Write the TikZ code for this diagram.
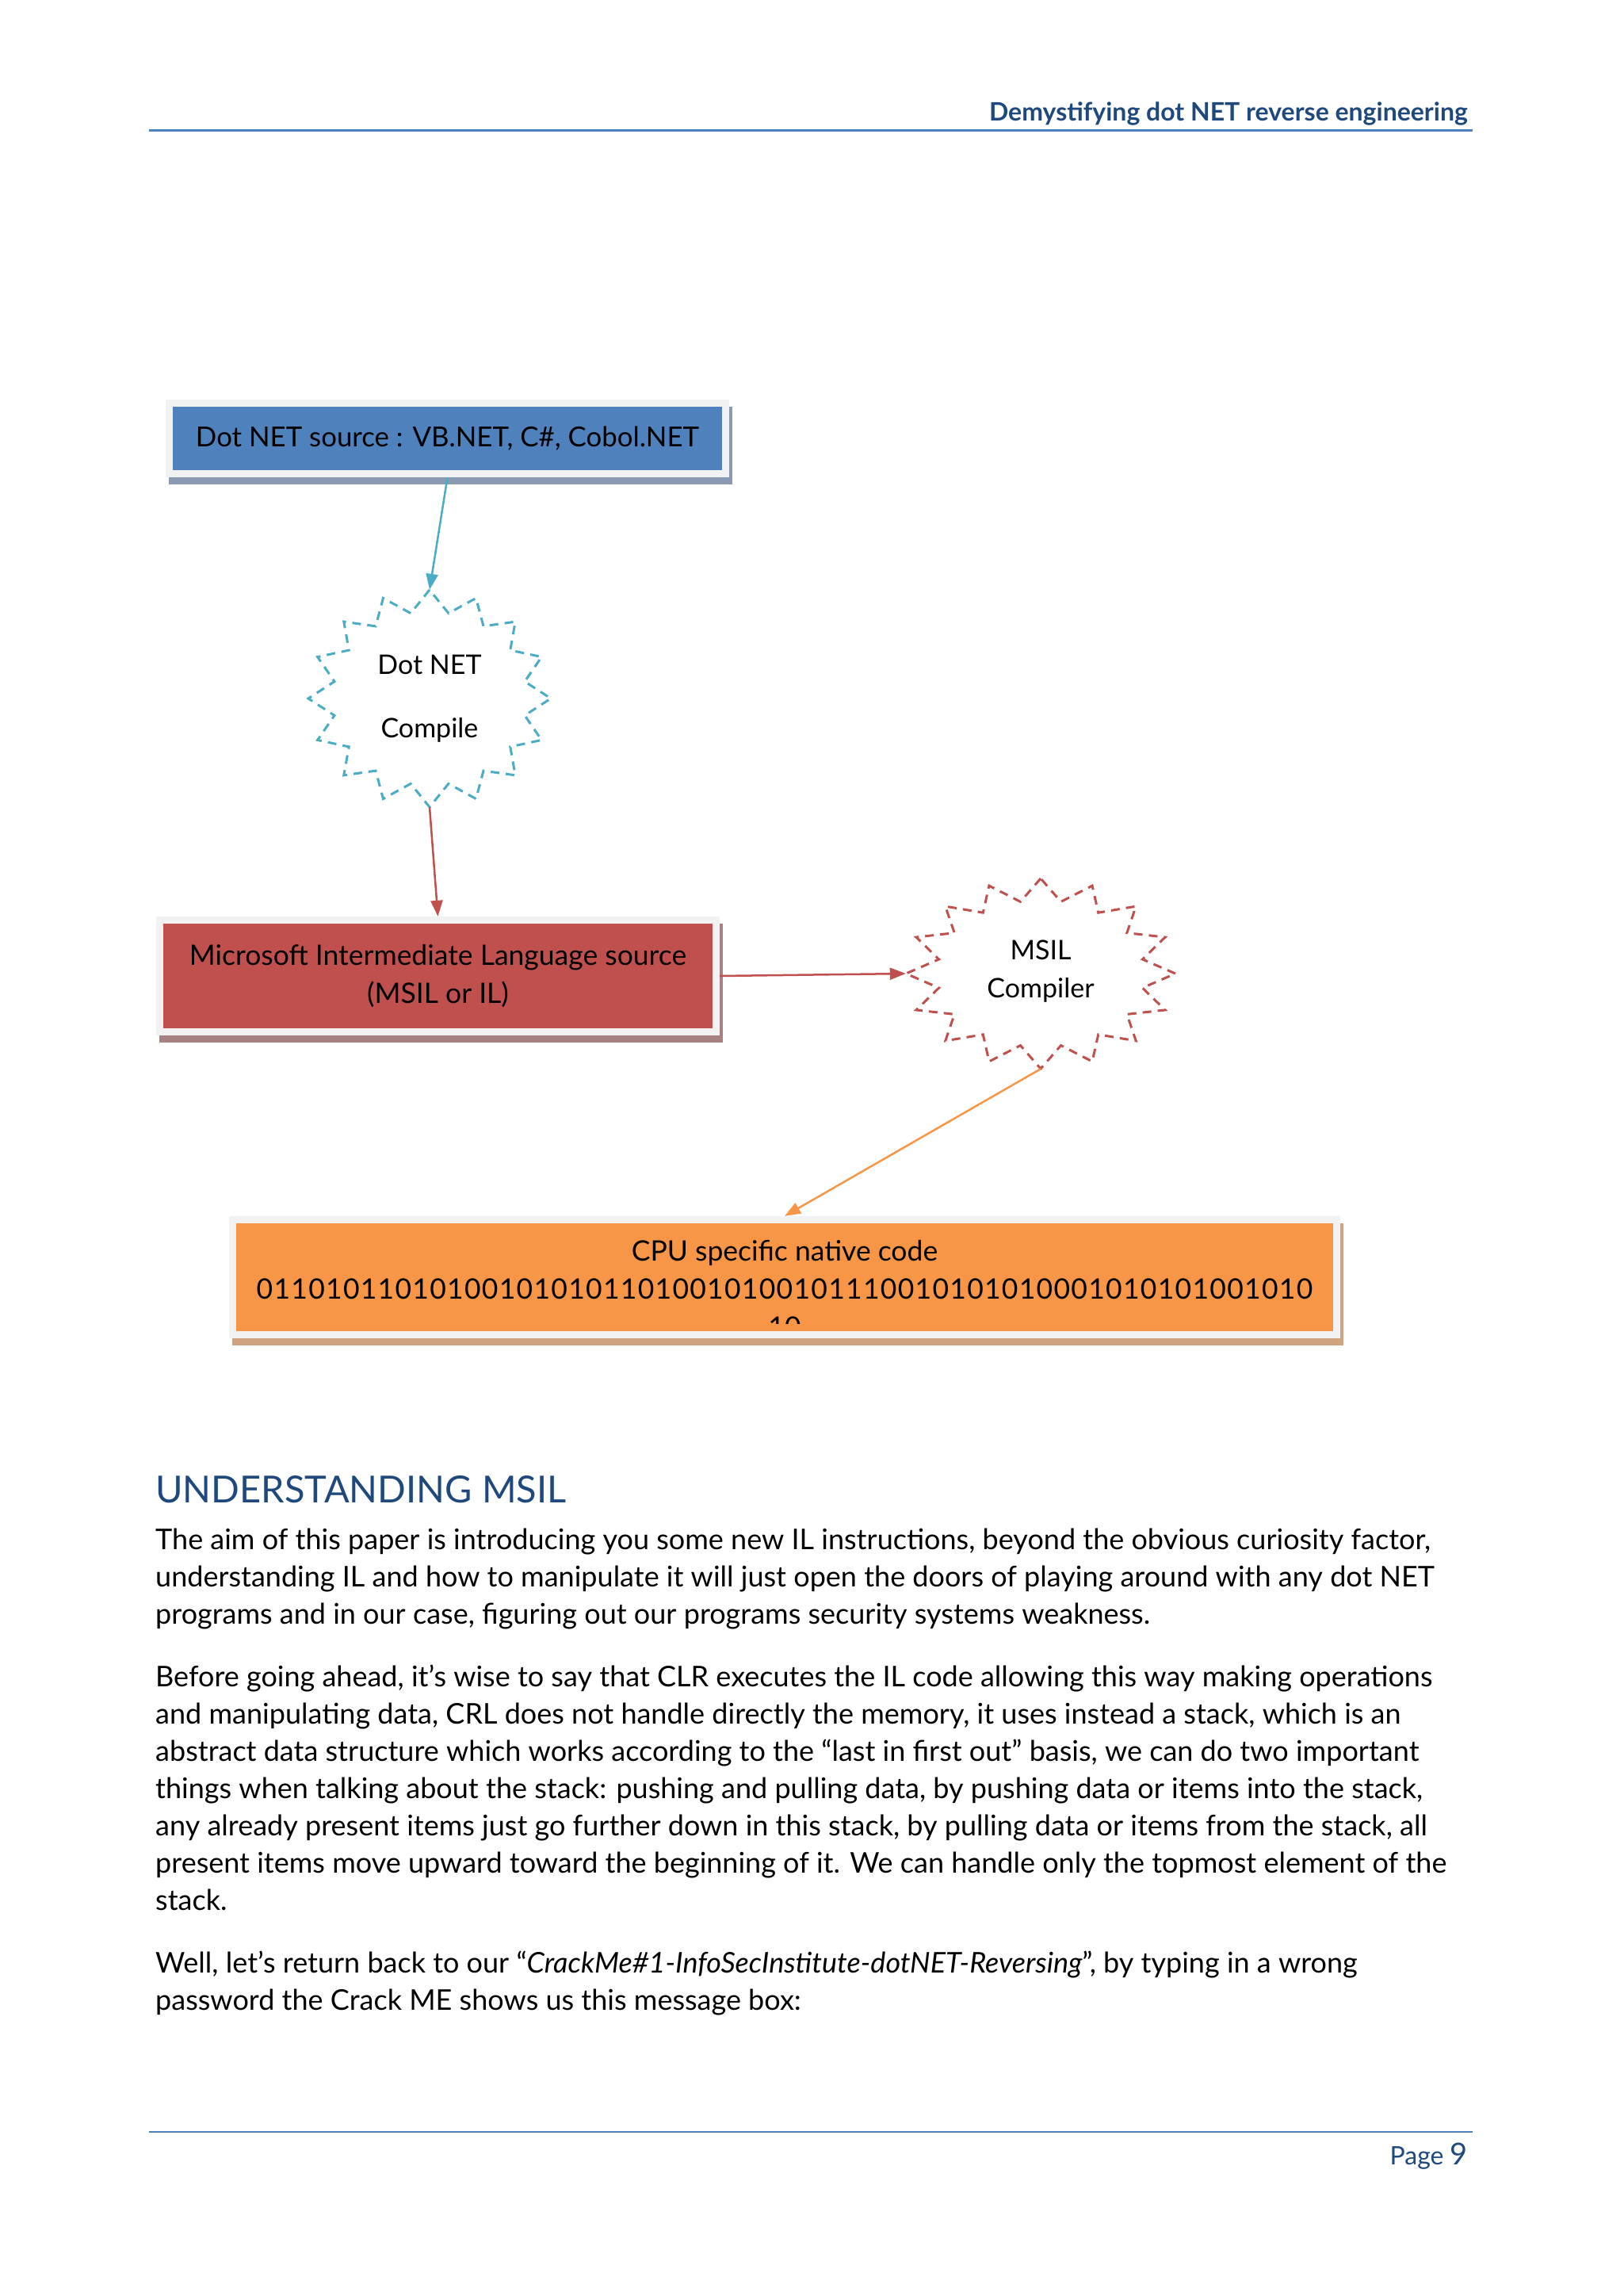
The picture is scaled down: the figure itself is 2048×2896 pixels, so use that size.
\documentclass[tikz,border=0pt]{standalone}
\usepackage{fontspec}
\setmainfont{Lato}
\usetikzlibrary{arrows.meta,shadows,calc,shapes.geometric}
\definecolor{hdrblue}{HTML}{1F497D}
\definecolor{rulblue}{HTML}{4F81BD}
\definecolor{boxblue}{HTML}{4F81BD}
\definecolor{boxred}{HTML}{C0504D}
\definecolor{boxorange}{HTML}{F79646}
\definecolor{tealc}{HTML}{4BACC6}
\definecolor{framegray}{HTML}{F2F2F2}
\definecolor{shblue}{HTML}{8A9AB2}
\definecolor{shred}{HTML}{A88282}
\definecolor{shorange}{HTML}{CFA37F}
\newcommand\bodyfont{\fontsize{36}{47}\selectfont}
\newcommand\boxfont{\fontsize{35.5}{48}\selectfont}
\newcommand\burstfont{\fontsize{34}{48}\selectfont}
\newcommand\burst[5]{%
  \draw[#5] ($(#1)+(0,-#3)$)
  \foreach \k in {1,...,31}{
    -- ($(#1)+({#2*(1-(1-#4)*mod(\k,2))*cos(90+\k*11.25)},{-#3*(1-(1-#4)*mod(\k,2))*sin(90+\k*11.25)})$)
  } -- cycle;}
\tikzset{
  framed/.style 2 args={draw=none, fill=framegray, inner sep=0pt,
    drop shadow={shadow xshift=4pt, shadow yshift=-9pt, fill=#2, opacity=1},
    path picture={\fill[#1] ([shift={(9pt,9pt)}]path picture bounding box.south west)
      rectangle ([shift={(-9pt,-9pt)}]path picture bounding box.north east);}},
  boxtext/.style={font=\boxfont, align=center, text=black},
  burstnode/.style={draw=none, ellipse, inner sep=0pt, font=\burstfont, align=center},
  burstline/.style={line width=3pt, dash pattern=on 11pt off 8pt},
  conn/.style={line width=2.5pt, -{Triangle[length=20pt,width=15pt]}},
  bodyline/.style={anchor=base west, inner sep=0pt, font=\bodyfont, text=black},
}
\begin{document}
\begin{tikzpicture}[x=1pt,y=-1pt]
\useasboundingbox[fill=white] (0,0) rectangle (2048,2896);

% header
\node[anchor=base east, inner sep=0pt, text=hdrblue, font=\fontsize{32}{36}\selectfont\bfseries] (hdr) at (1852,152) {Demystifying dot NET reverse engineering};
\draw[rulblue, line width=3pt] (188,164) -- (1858,164);

% boxes
\node[framed={boxblue}{shblue}, minimum width=711pt, minimum height=98pt, boxtext, font=\fontsize{34.8}{48}\selectfont] (boxA) at (564.5,553) {Dot NET source : VB.NET, C\#, Cobol.NET};
\node[framed={boxred}{shred}, minimum width=711pt, minimum height=150pt, boxtext] (boxB) at (552.5,1231) {Microsoft Intermediate Language source\\(MSIL or IL)};
\node[framed={boxorange}{shorange}, minimum width=1402pt, minimum height=154pt] (boxC) at (990,1611) {};
\begin{scope}
  \clip ([xshift=9pt,yshift=19pt]boxC.south west) rectangle ([xshift=-9pt,yshift=-9pt]boxC.north east);
  \node[boxtext, anchor=base] (cpu) at (990,1686) {CPU specific native code\\{\addfontfeature{LetterSpace=3.6}0110101101010010101011010010100101110010101010001010101001010}\\10};
\end{scope}

% bursts
\node[burstnode, minimum width=306pt, minimum height=274pt] (starA) at (542,881) {Dot NET\\[32pt]Compile};
\burst{starA}{153}{137}{0.8}{tealc, burstline}
\node[burstnode, minimum width=340pt, minimum height=240pt] (starB) at (1313,1228) {MSIL\\Compiler\\[-37pt]};
\burst{starB}{170}{120}{0.77}{boxred, burstline}

% connectors
\draw[conn, tealc] (boxA.south) -- (starA.north);
\draw[conn, boxred] (starA.south) -- (boxB.north);
\draw[conn, boxred] (boxB.east) -- (starB.west);
\draw[conn, boxorange] (starB.south) -- (boxC.north);

% heading and body
\node[anchor=base west, inner sep=0pt, text=hdrblue, font=\fontsize{47}{50}\selectfont] (head) at (196,1895) {UNDERSTANDING MSIL};
\node[bodyline] (p1a) at (196,1954) {The aim of this paper is introducing you some new IL instructions, beyond the obvious curiosity factor,};
\node[bodyline] (p1b) at (196,2001) {understanding IL and how to manipulate it will just open the doors of playing around with any dot NET};
\node[bodyline] (p1c) at (196,2048) {programs and in our case, figuring out our programs security systems weakness.};
\node[bodyline] (p2a) at (196,2127) {Before going ahead, it’s wise to say that CLR executes the IL code allowing this way making operations};
\node[bodyline] (p2b) at (196,2174) {and manipulating data, CRL does not handle directly the memory, it uses instead a stack, which is an};
\node[bodyline] (p2c) at (196,2221) {abstract data structure which works according to the “last in first out” basis, we can do two important};
\node[bodyline] (p2d) at (196,2268) {things when talking about the stack: pushing and pulling data, by pushing data or items into the stack,};
\node[bodyline] (p2e) at (196,2315) {any already present items just go further down in this stack, by pulling data or items from the stack, all};
\node[bodyline] (p2f) at (196,2362) {present items move upward toward the beginning of it. We can handle only the topmost element of the};
\node[bodyline] (p2g) at (196,2409) {stack.};
\node[bodyline] (p3a) at (196,2488) {Well, let’s return back to our “\textit{CrackMe\#1-InfoSecInstitute-dotNET-Reversing}”, by typing in a wrong};
\node[bodyline] (p3b) at (196,2535) {password the Crack ME shows us this message box:};

% footer
\draw[rulblue, line width=2pt] (188,2689) -- (1858,2689);
\node[anchor=base east, inner sep=0pt, text=hdrblue] (pg) at (1852,2730) {{\fontsize{32}{36}\selectfont Page }{\fontsize{38}{40}\selectfont 9}};
\end{tikzpicture}
\end{document}
